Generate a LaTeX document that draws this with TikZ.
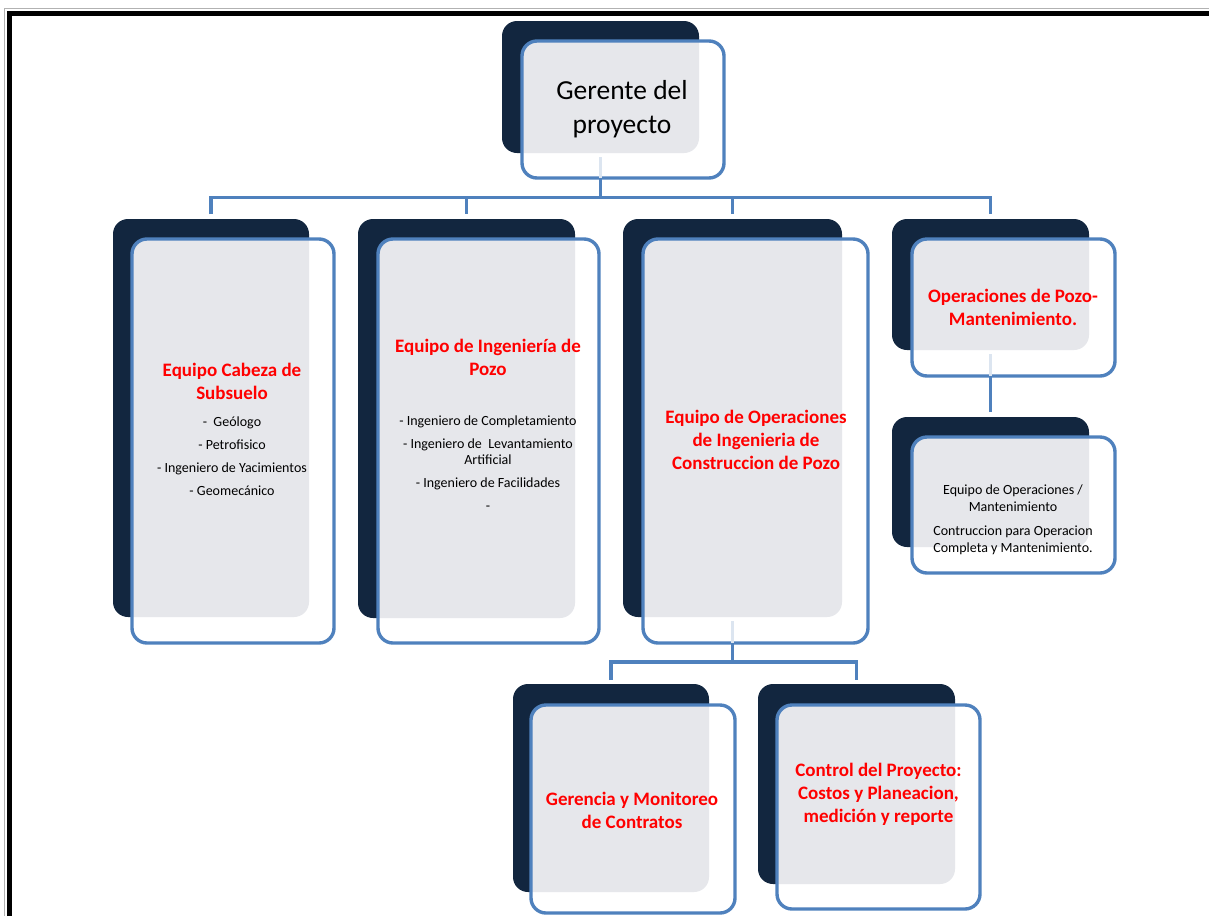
\documentclass[tikz,border=0pt]{standalone}
\usepackage{fontspec}
\setmainfont{Carlito}
\usetikzlibrary{fit}

\definecolor{navy}{HTML}{12263F}
\definecolor{panel}{HTML}{E6E7EB}
\definecolor{linkblue}{HTML}{4F81BD}
\definecolor{ghost}{HTML}{DCE5F0}

\begin{document}
\begin{tikzpicture}[x=1pt, y=-1pt,
    backbox/.style={fill=navy, rounded corners=15pt, inner sep=0pt, outer sep=0pt},
    frontbox/.style={fill=white, rounded corners=15pt, inner sep=0pt, outer sep=0pt},
    link/.style={draw=linkblue, line width=3.4pt},
    ghostlink/.style={draw=ghost, line width=3.4pt},
    title/.style={text=red, font=\fontsize{19}{23}\selectfont\bfseries, align=center},
    items/.style={font=\fontsize{14}{16.5}\selectfont, align=center}]
  \useasboundingbox (0,0) rectangle (1209,916);
  % page frame: thin grey outside, thick black inside
  \draw[gray!60, line width=1pt] (4.5,916) -- (4.5,8.5) -- (1209,8.5);
  \draw[black, line width=5pt] (9.5,916) -- (9.5,13.5) -- (1209,13.5);
  % each unit: dark back box, front box, grey where they overlap
  \foreach \n/\bx/\by/\bX/\bY/\fx/\fy/\fX/\fY in {
      ger/502/21/699/153/522/41/724/178,
      sub/113/219/309/617/132/239/334/643,
      ing/358/219/575/618/378/239/599/643,
      ope/623/219/842/617/643/239/868/643,
      mnt/892/219/1089/350/912/239/1115/376,
      eqm/892/417/1089/547/912/437/1115/573,
      con/513/684/709/892/531/705/735/913,
      ctl/758/684/955/884/777/705/980/909} {
    \node[backbox, fit={(\bx,\by) (\bX,\bY)}] (\n-b) {};
    \node[frontbox, fit={(\fx,\fy) (\fX,\fY)}] (\n) {};
    \begin{scope}
      \clip[rounded corners=15pt] (\n-b.north west) rectangle (\n-b.south east);
      \fill[panel, rounded corners=15pt] (\n.north west) rectangle (\n.south east);
    \end{scope}
    \draw[link, rounded corners=15pt] (\n.north west) rectangle (\n.south east);
  }
  % bus heights
  \coordinate (bus) at (0,197.5);
  \coordinate (subbus) at (0,662);
  % connectors showing faintly through the front boxes
  \foreach \n in {ger,ope,mnt}
    \draw[ghostlink] ([yshift=-4pt]\n-b.south) -- (\n-b.south |- \n.south);
  % top level
  \draw[link] (ger-b.south |- ger.south) -- (ger-b.south |- bus);
  \draw[link] ([yshift=5pt]sub-b.north) -- (sub-b.north |- bus)
    -- (mnt-b.north |- bus) -- ([yshift=5pt]mnt-b.north);
  \foreach \n in {ing,ope}
    \draw[link] (\n-b.north |- bus) -- ([yshift=5pt]\n-b.north);
  % below the construction team
  \draw[link] (ope-b.south |- ope.south) -- (ope-b.south |- subbus);
  \draw[link] ([yshift=4pt]con-b.north) -- (con-b.north |- subbus)
    -- (ctl-b.north |- subbus) -- ([yshift=4pt]ctl-b.north);
  % below well operations
  \draw[link] (mnt-b.south |- mnt.south) -- ([yshift=5pt]eqm-b.north);
  % texts
  \node[font=\fontsize{27.5}{34}\selectfont, align=center] (ger-t) at (622,109)
    {Gerente del\\proyecto};
  \node[title] (sub-t) at (232,381.5) {Equipo Cabeza de\\Subsuelo};
  \node[items] (sub-i) at (232,456)
    {-~ Geólogo\\[6.5pt]- Petrofisico\\[6.5pt]- Ingeniero de Yacimientos\\[6.5pt]- Geomecánico};
  \node[title] (ing-t) at (488,357.5) {Equipo de Ingeniería de\\Pozo};
  \node[items] (ing-i) at (488,463)
    {- Ingeniero de Completamiento\\[6.5pt]- Ingeniero de~ Levantamiento\\Artificial\\[6.5pt]- Ingeniero de Facilidades\\[6.5pt]-};
  \node[title] (ope-t) at (756,440)
    {Equipo de Operaciones\\de Ingenieria de\\Construccion de Pozo};
  \node[title] (mnt-t) at (1013,307.5) {Operaciones de Pozo-\\Mantenimiento.};
  \node[items, font=\fontsize{14}{17}\selectfont] (eqm-t) at (1013,520)
    {Equipo de Operaciones /\\Mantenimiento\\[7pt]Contruccion para Operacion\\Completa y Mantenimiento.};
  \node[title] (con-t) at (632,810.5) {Gerencia y Monitoreo\\de Contratos};
  \node[title] (ctl-t) at (878.5,794)
    {Control del Proyecto:\\Costos y Planeacion,\\medición y reporte};
\end{tikzpicture}
\end{document}
